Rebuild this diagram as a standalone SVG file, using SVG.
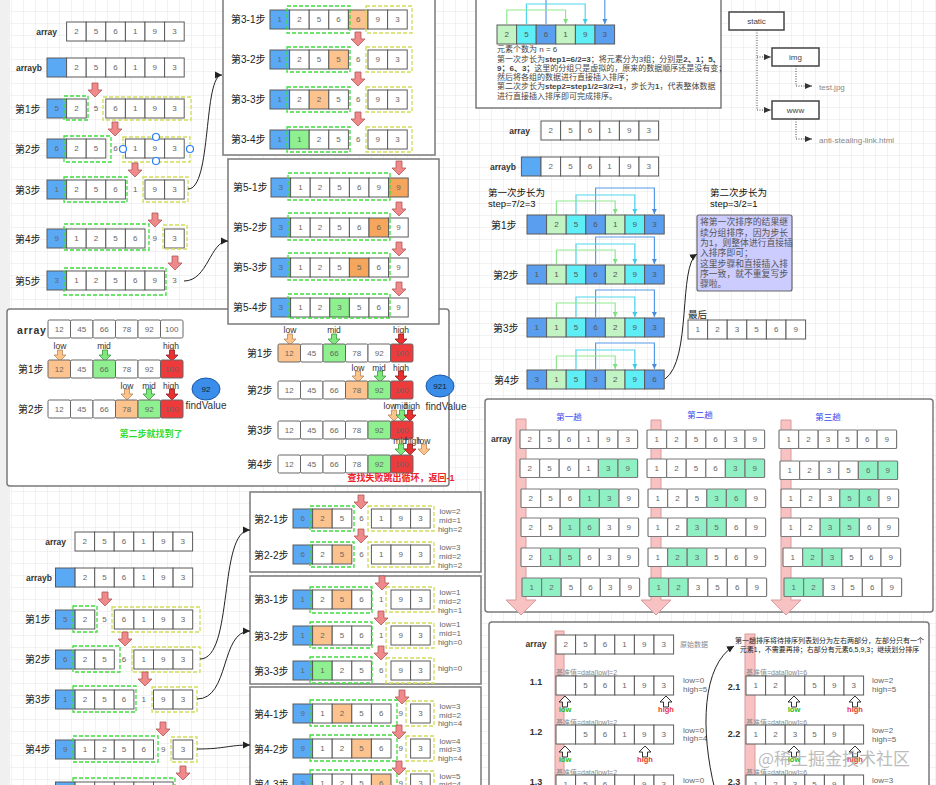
<svg xmlns="http://www.w3.org/2000/svg" xmlns:xlink="http://www.w3.org/1999/xlink" width="936" height="785" viewBox="0 0 936 785">
<style>
.t{font-family:"Liberation Sans",Arial,sans-serif;font-size:8px;fill:#666;text-anchor:middle;dominant-baseline:central}
.l{font-family:"Liberation Sans","Noto Sans CJK SC",sans-serif;font-size:10px;fill:#222;dominant-baseline:central}
.k{font-family:"Liberation Sans",Arial,sans-serif;font-size:8.5px;font-weight:bold;fill:#333;dominant-baseline:central}
.s{font-family:"Liberation Sans",Arial,sans-serif;font-size:8.5px;fill:#333;text-anchor:middle;dominant-baseline:central}
.v{font-family:"Liberation Sans",Arial,sans-serif;font-size:8px;fill:#666;text-anchor:middle;dominant-baseline:central}
.q{font-family:"Liberation Sans",Arial,sans-serif;font-size:8px;fill:#666;dominant-baseline:central}
.z{font-family:"Liberation Sans","Noto Sans CJK SC",sans-serif;font-size:7px;fill:#888;dominant-baseline:central}
.p{font-family:"Liberation Sans","Noto Sans CJK SC",sans-serif;font-size:8px;fill:#444}
.w{fill:#fff}.b{fill:#5aa9f5}.o{fill:#fcc38e}.O{fill:#f5a55c}.g{fill:#8ef08e}.m{fill:#8ef0c3}.r{fill:#ee3a3a}.lg{fill:#c2f3c2}.cy{fill:#5eeef5}.bl{fill:#5a9ef0}
.gd{fill:none;stroke:#3fdc3f;stroke-width:1.3;stroke-dasharray:4 2}
.yd{fill:none;stroke:#d2dc5a;stroke-width:1.3;stroke-dasharray:4 2}
.box{fill:#fff;stroke:#7a7a7a;stroke-width:1.5}
.ra{fill:#f08a8a;stroke:#b05555;stroke-width:.8}
.ao{fill:#fcc38a;stroke:#b8875a;stroke-width:.8}
.ag{fill:#7ee87e;stroke:#3a9a3a;stroke-width:.8}
.ar{fill:#e83030;stroke:#902020;stroke-width:.8}
.cn{fill:none;stroke:#222;stroke-width:1}
.bg{fill:none;stroke:#8fe88f;stroke-width:1.2}
.bc{fill:none;stroke:#4fd5ee;stroke-width:1.2}
.bb{fill:none;stroke:#5a9be8;stroke-width:1.2}
.dt{fill:none;stroke:#444;stroke-width:1;stroke-dasharray:1 1.5}
.pk{fill:#f9c2c2;stroke:#d89a9a;stroke-width:1}
.hw{fill:#fff;stroke:#444;stroke-width:1.5}
.ht{font-family:"Liberation Sans",Arial,sans-serif;font-size:8px;fill:#444;text-anchor:middle;dominant-baseline:central}
.gl{font-family:"Liberation Sans",Arial,sans-serif;font-size:7.5px;font-weight:bold;fill:#22bb22;text-anchor:middle;dominant-baseline:central}
.rl{font-family:"Liberation Sans",Arial,sans-serif;font-size:7.5px;font-weight:bold;fill:#e83333;text-anchor:middle;dominant-baseline:central}
</style>
<defs>
<pattern id="grid" width="12" height="12" patternUnits="userSpaceOnUse"><path d="M12 0V12H0" fill="none" stroke="#e4e4e4" stroke-width="1"/></pattern>
<rect id="c" width="19.6" height="19" stroke="#5a5a5a" stroke-width="1"/>
<rect id="d" width="19.6" height="18.5" rx="1" stroke="#7a7a7a" stroke-width="1.2"/>
<rect id="bc" width="22.5" height="18" rx="1.5" stroke="#666" stroke-width="1"/>
<path id="ra" d="M-3 0H3V7H7L0 14L-7 7H-3Z"/>
<path id="ba" d="M-2.5 0H2.5V5H6L0 11L-6 5H-2.5Z"/>
<path id="ua" d="M0 0L6 6H2.5V11H-2.5V6H-6Z" fill="#fff" stroke="#333" stroke-width="1"/>
<text id="bt" class="t" y="9"><tspan x="11.25">12</tspan><tspan x="33.75">45</tspan><tspan x="56.25">66</tspan><tspan x="78.75">78</tspan><tspan x="101.25">92</tspan><tspan x="123.75">100</tspan></text>
<marker id="ah" markerWidth="8" markerHeight="8" refX="7" refY="4" orient="auto" markerUnits="userSpaceOnUse"><path d="M0 0.5L7 4L0 7.5Z" fill="#222"/></marker>
<marker id="mk" markerWidth="8" markerHeight="8" refX="7" refY="4" orient="auto" markerUnits="userSpaceOnUse"><path d="M0 1L7 4L0 7Z" fill="#333"/></marker>
<marker id="mg" markerWidth="6" markerHeight="6" refX="5" refY="3" orient="auto" markerUnits="userSpaceOnUse"><path d="M0 0.5L5 3L0 5.5Z" fill="#7ee07e"/></marker>
<marker id="mc" markerWidth="6" markerHeight="6" refX="5" refY="3" orient="auto" markerUnits="userSpaceOnUse"><path d="M0 0.5L5 3L0 5.5Z" fill="#3dcbe6"/></marker>
<marker id="mb" markerWidth="6" markerHeight="6" refX="5" refY="3" orient="auto" markerUnits="userSpaceOnUse"><path d="M0 0.5L5 3L0 5.5Z" fill="#4a8be0"/></marker>
</defs>
<rect width="936" height="785" fill="#fff"/>
<rect width="936" height="785" fill="url(#grid)"/>
<rect width="10" height="785" fill="#f0f0f0"/>

<!-- Section A: insertion sort -->
<g id="insA">
<text class="k" x="57" y="31.5" text-anchor="end">array</text>
<g class="w" transform="translate(66.6,22)"><use href="#c"/><use href="#c" x="19.6"/><use href="#c" x="39.2"/><use href="#c" x="58.8"/><use href="#c" x="78.4"/><use href="#c" x="98"/><text class="t" y="9.5" x="9.8 29.4 49 68.6 88.2 107.8">256193</text></g>
<text class="k" x="42" y="67.5" text-anchor="end">arrayb</text>
<g class="w" transform="translate(47,58)"><use href="#c" class="b"/><use href="#c" x="19.6"/><use href="#c" x="39.2"/><use href="#c" x="58.8"/><use href="#c" x="78.4"/><use href="#c" x="98"/><use href="#c" x="117.6"/><text class="t" y="9.5" x="29.4 49 68.6 88.2 107.8 127.4">256193</text></g>
<text class="l" x="15" y="109">第1步</text>
<g class="w" transform="translate(47,99)"><use href="#c" class="b"/><use href="#c" x="19.6"/><use href="#c" x="58.8"/><use href="#c" x="78.4"/><use href="#c" x="98"/><use href="#c" x="117.6"/><text class="t" y="9.5" x="9.8 29.4 49 68.6 88.2 107.8 127.4">5256193</text></g>
<rect class="gd" x="64" y="96" width="24" height="24"/><rect class="yd" x="103" y="97" width="88" height="23"/>
<text class="l" x="15" y="149">第2步</text>
<g class="w" transform="translate(47,139)"><use href="#c" class="b"/><use href="#c" x="19.6"/><use href="#c" x="39.2"/><use href="#c" x="78.4"/><use href="#c" x="98"/><use href="#c" x="117.6"/><text class="t" y="9.5" x="9.8 29.4 49 68.6 88.2 107.8 127.4">6256193</text></g>
<rect class="gd" x="64" y="136" width="47" height="26"/><rect class="yd" x="123" y="137" width="67" height="25"/>
<g fill="#fff" stroke="#2a7fff" stroke-width="1.2"><circle cx="156" cy="137" r="3.5"/><circle cx="123" cy="149" r="3.5"/><circle cx="156" cy="161" r="3.5"/><circle cx="190" cy="149" r="3.5"/></g>
<text class="l" x="15" y="190">第3步</text>
<g class="w" transform="translate(47,180)"><use href="#c" class="b"/><use href="#c" x="19.6"/><use href="#c" x="39.2"/><use href="#c" x="58.8"/><use href="#c" x="98"/><use href="#c" x="117.6"/><text class="t" y="9.5" x="9.8 29.4 49 68.6 88.2 107.8 127.4">1256193</text></g>
<rect class="gd" x="64" y="177" width="63" height="25"/><rect class="yd" x="143" y="177" width="45" height="25"/>
<text class="l" x="15" y="239">第4步</text>
<g class="w" transform="translate(47,229)"><use href="#c" class="b"/><use href="#c" x="19.6"/><use href="#c" x="39.2"/><use href="#c" x="58.8"/><use href="#c" x="78.4"/><use href="#c" x="117.6"/><text class="t" y="9.5" x="9.8 29.4 49 68.6 88.2 107.8 127.4">9125693</text></g>
<rect class="gd" x="64" y="224" width="85" height="26"/><rect class="yd" x="163" y="225" width="24" height="24"/>
<text class="l" x="15" y="281">第5步</text>
<g class="w" transform="translate(47,271)"><use href="#c" class="b"/><use href="#c" x="19.6"/><use href="#c" x="39.2"/><use href="#c" x="58.8"/><use href="#c" x="78.4"/><use href="#c" x="98"/><text class="t" y="9.5" x="9.8 29.4 49 68.6 88.2 107.8 127.4">3125693</text></g>
<rect class="gd" x="64" y="268" width="102" height="27"/>
<use href="#ra" class="ra" x="95" y="83"/><use href="#ra" class="ra" x="115" y="122"/><use href="#ra" class="ra" x="135" y="163"/><use href="#ra" class="ra" x="155" y="213"/><use href="#ra" class="ra" x="175" y="256"/>
</g>

<!-- Section D: binary search box -->
<g id="binary">
<rect class="box" x="7" y="309" width="442" height="177" rx="3"/>
<text class="k" x="17" y="329.5" style="font-size:10.5px;letter-spacing:.8px">array</text>
<g class="w" transform="translate(48,320)"><use href="#bc"/><use href="#bc" x="22.5"/><use href="#bc" x="45"/><use href="#bc" x="67.5"/><use href="#bc" x="90"/><use href="#bc" x="112.5"/><use href="#bt"/></g>
<text class="s" x="60" y="346">low</text><text class="s" x="104" y="346">mid</text><text class="s" x="171" y="346">high</text>
<use href="#ba" class="ao" x="60" y="350"/><use href="#ba" class="ag" x="105" y="350"/><use href="#ba" class="ar" x="172" y="350"/>
<text class="l" x="18" y="369">第1步</text>
<g class="w" transform="translate(48,360)"><use href="#bc" class="o"/><use href="#bc" x="22.5"/><use href="#bc" x="45" class="g"/><use href="#bc" x="67.5"/><use href="#bc" x="90"/><use href="#bc" x="112.5" class="r"/><use href="#bt"/></g>
<text class="s" x="127" y="386">low</text><text class="s" x="149" y="386">mid</text><text class="s" x="171" y="386">high</text>
<use href="#ba" class="ao" x="127" y="389"/><use href="#ba" class="ag" x="149" y="389"/><use href="#ba" class="ar" x="172" y="389"/>
<text class="l" x="18" y="409">第2步</text>
<g class="w" transform="translate(48,400)"><use href="#bc"/><use href="#bc" x="22.5"/><use href="#bc" x="45"/><use href="#bc" x="67.5" class="o"/><use href="#bc" x="90" class="g"/><use href="#bc" x="112.5" class="r"/><use href="#bt"/></g>
<ellipse cx="206" cy="389" rx="14" ry="11" fill="#3a8de8" stroke="#1a5aaa"/>
<text class="t" x="206" y="389" style="fill:#123">92</text>
<text class="s" x="206" y="405" style="font-size:10px">findValue</text>
<text class="l" x="151" y="434" text-anchor="middle" style="font-size:9px;font-weight:bold;fill:#33dd33">第二步就找到了</text>

<text class="s" x="290" y="330">low</text><text class="s" x="334" y="330">mid</text><text class="s" x="401" y="330">high</text>
<use href="#ba" class="ao" x="290" y="334"/><use href="#ba" class="ag" x="334" y="334"/><use href="#ba" class="ar" x="401" y="334"/>
<text class="l" x="247" y="353">第1步</text>
<g class="w" transform="translate(278,344)"><use href="#bc" class="o"/><use href="#bc" x="22.5"/><use href="#bc" x="45" class="g"/><use href="#bc" x="67.5"/><use href="#bc" x="90"/><use href="#bc" x="112.5" class="r"/><use href="#bt"/></g>
<text class="s" x="358" y="368">low</text><text class="s" x="379" y="368">mid</text><text class="s" x="401" y="368">high</text>
<use href="#ba" class="ao" x="358" y="371"/><use href="#ba" class="ag" x="380" y="371"/><use href="#ba" class="ar" x="401" y="371"/>
<text class="l" x="247" y="390">第2步</text>
<g class="w" transform="translate(278,381)"><use href="#bc"/><use href="#bc" x="22.5"/><use href="#bc" x="45"/><use href="#bc" x="67.5" class="o"/><use href="#bc" x="90" class="g"/><use href="#bc" x="112.5" class="r"/><use href="#bt"/></g>
<ellipse cx="440" cy="386" rx="14" ry="11" fill="#3a8de8" stroke="#1a5aaa"/>
<text class="t" x="440" y="386" style="fill:#123">921</text>
<text class="s" x="446" y="406" style="font-size:10px">findValue</text>
<text class="s" x="390" y="406">low</text><text class="s" x="401" y="406">mid</text><text class="s" x="412" y="406">high</text>
<use href="#ba" class="ao" x="394" y="410"/><use href="#ba" class="ag" x="402" y="410"/><use href="#ba" class="ar" x="410" y="410"/>
<text class="l" x="247" y="430">第3步</text>
<g class="w" transform="translate(278,421)"><use href="#bc"/><use href="#bc" x="22.5"/><use href="#bc" x="45"/><use href="#bc" x="67.5"/><use href="#bc" x="90" class="g"/><use href="#bc" x="112.5" class="r"/><use href="#bt"/></g>
<text class="s" x="400" y="441">mid</text><text class="s" x="413" y="441">high</text><text class="s" x="424" y="441">low</text>
<use href="#ba" class="ag" x="401" y="444"/><use href="#ba" class="ar" x="410" y="444"/><use href="#ba" class="ao" x="424" y="444"/>
<text class="l" x="247" y="464">第4步</text>
<g class="w" transform="translate(278,455)"><use href="#bc"/><use href="#bc" x="22.5"/><use href="#bc" x="45"/><use href="#bc" x="67.5"/><use href="#bc" x="90" class="g"/><use href="#bc" x="112.5" class="r"/><use href="#bt"/></g>
<text class="l" x="401" y="478" text-anchor="middle" style="font-size:9px;font-weight:bold;fill:#e22">查找失败跳出循环，返回-1</text>
</g>

<!-- Section B -->
<g id="box3">
<rect class="box" x="223" y="-5" width="212" height="160"/>
<text class="l" x="231" y="19.5">第3-1步</text>
<g class="w" transform="translate(270,10)"><use href="#c" class="b"/><use href="#c" x="19.6"/><use href="#c" x="39.2"/><use href="#c" x="58.8"/><use href="#c" x="78.4" class="o"/><use href="#c" x="98"/><use href="#c" x="117.6"/><text class="t" y="9.5" x="9.8 29.4 49 68.6 88.2 107.8 127.4">1256693</text></g>
<rect class="gd" x="287" y="6" width="63" height="27"/><rect class="yd" x="366" y="6" width="46" height="27"/>
<text class="l" x="231" y="59.5">第3-2步</text>
<g class="w" transform="translate(270,50)"><use href="#c" class="b"/><use href="#c" x="19.6"/><use href="#c" x="39.2"/><use href="#c" x="58.8" class="o"/><use href="#c" x="98"/><use href="#c" x="117.6"/><text class="t" y="9.5" x="9.8 29.4 49 68.6 88.2 107.8 127.4">1255693</text></g>
<rect class="gd" x="287" y="47" width="63" height="25"/><rect class="yd" x="366" y="47" width="46" height="25"/>
<text class="l" x="231" y="99.5">第3-3步</text>
<g class="w" transform="translate(270,90)"><use href="#c" class="b"/><use href="#c" x="19.6"/><use href="#c" x="39.2" class="o"/><use href="#c" x="58.8"/><use href="#c" x="98"/><use href="#c" x="117.6"/><text class="t" y="9.5" x="9.8 29.4 49 68.6 88.2 107.8 127.4">1225693</text></g>
<rect class="gd" x="287" y="87" width="63" height="25"/><rect class="yd" x="366" y="87" width="46" height="25"/>
<text class="l" x="231" y="139.5">第3-4步</text>
<g class="w" transform="translate(270,130)"><use href="#c" class="b"/><use href="#c" x="19.6" class="g"/><use href="#c" x="39.2"/><use href="#c" x="58.8"/><use href="#c" x="98"/><use href="#c" x="117.6"/><text class="t" y="9.5" x="9.8 29.4 49 68.6 88.2 107.8 127.4">1125693</text></g>
<rect class="gd" x="287" y="127" width="63" height="25"/><rect class="yd" x="366" y="127" width="46" height="25"/>
<use href="#ra" class="ra" x="358" y="32"/><use href="#ra" class="ra" x="358" y="72"/><use href="#ra" class="ra" x="358" y="112"/>
</g>

<!-- Section C -->
<g id="box5">
<rect class="box" x="228" y="159" width="211" height="165"/>
<text class="l" x="233" y="187.5">第5-1步</text>
<g class="w" transform="translate(271,178)"><use href="#c" class="b"/><use href="#c" x="19.6"/><use href="#c" x="39.2"/><use href="#c" x="58.8"/><use href="#c" x="78.4"/><use href="#c" x="98"/><use href="#c" x="117.6" class="O"/><text class="t" y="9.5" x="9.8 29.4 49 68.6 88.2 107.8 127.4">3125699</text></g>
<rect class="gd" x="288" y="173" width="102" height="27"/>
<text class="l" x="233" y="227.5">第5-2步</text>
<g class="w" transform="translate(271,218)"><use href="#c" class="b"/><use href="#c" x="19.6"/><use href="#c" x="39.2"/><use href="#c" x="58.8"/><use href="#c" x="78.4"/><use href="#c" x="98" class="O"/><use href="#c" x="117.6"/><text class="t" y="9.5" x="9.8 29.4 49 68.6 88.2 107.8 127.4">3125669</text></g>
<rect class="gd" x="288" y="213" width="102" height="27"/>
<text class="l" x="233" y="267.5">第5-3步</text>
<g class="w" transform="translate(271,258)"><use href="#c" class="b"/><use href="#c" x="19.6"/><use href="#c" x="39.2"/><use href="#c" x="58.8"/><use href="#c" x="78.4" class="O"/><use href="#c" x="98"/><use href="#c" x="117.6"/><text class="t" y="9.5" x="9.8 29.4 49 68.6 88.2 107.8 127.4">3125569</text></g>
<rect class="gd" x="288" y="253" width="102" height="27"/>
<text class="l" x="233" y="307.5">第5-4步</text>
<g class="w" transform="translate(271,298)"><use href="#c" class="b"/><use href="#c" x="19.6"/><use href="#c" x="39.2"/><use href="#c" x="58.8" class="g"/><use href="#c" x="78.4"/><use href="#c" x="98"/><use href="#c" x="117.6"/><text class="t" y="9.5" x="9.8 29.4 49 68.6 88.2 107.8 127.4">3123569</text></g>
<rect class="gd" x="288" y="294" width="102" height="24"/>
<use href="#ra" class="ra" x="399" y="161"/><use href="#ra" class="ra" x="399" y="202"/><use href="#ra" class="ra" x="399" y="242"/><use href="#ra" class="ra" x="399" y="282"/>
</g>

<!-- Section E -->
<g id="insB">
<text class="k" x="66" y="541.5" text-anchor="end">array</text>
<g class="w" transform="translate(75,532)"><use href="#c"/><use href="#c" x="19.6"/><use href="#c" x="39.2"/><use href="#c" x="58.8"/><use href="#c" x="78.4"/><use href="#c" x="98"/><text class="t" y="9.5" x="9.8 29.4 49 68.6 88.2 107.8">256193</text></g>
<text class="k" x="52" y="577.5" text-anchor="end">arrayb</text>
<g class="w" transform="translate(55.5,568)"><use href="#c" class="b"/><use href="#c" x="19.6"/><use href="#c" x="39.2"/><use href="#c" x="58.8"/><use href="#c" x="78.4"/><use href="#c" x="98"/><use href="#c" x="117.6"/><text class="t" y="9.5" x="29.4 49 68.6 88.2 107.8 127.4">256193</text></g>
<text class="l" x="25" y="619.5">第1步</text>
<g class="w" transform="translate(55.5,610)"><use href="#c" class="b"/><use href="#c" x="19.6"/><use href="#c" x="58.8"/><use href="#c" x="78.4"/><use href="#c" x="98"/><use href="#c" x="117.6"/><text class="t" y="9.5" x="9.8 29.4 49 68.6 88.2 107.8 127.4">5256193</text></g>
<rect class="gd" x="73" y="606" width="24" height="26"/><rect class="yd" x="112" y="607" width="88" height="25"/>
<text class="l" x="25" y="659.5">第2步</text>
<g class="w" transform="translate(55.5,650)"><use href="#c" class="b"/><use href="#c" x="19.6"/><use href="#c" x="39.2"/><use href="#c" x="78.4"/><use href="#c" x="98"/><use href="#c" x="117.6"/><text class="t" y="9.5" x="9.8 29.4 49 68.6 88.2 107.8 127.4">6256193</text></g>
<rect class="gd" x="73" y="646" width="47" height="26"/><rect class="yd" x="132" y="647" width="68" height="25"/>
<text class="l" x="25" y="699.5">第3步</text>
<g class="w" transform="translate(55.5,690)"><use href="#c" class="b"/><use href="#c" x="19.6"/><use href="#c" x="39.2"/><use href="#c" x="58.8"/><use href="#c" x="98"/><use href="#c" x="117.6"/><text class="t" y="9.5" x="9.8 29.4 49 68.6 88.2 107.8 127.4">1256193</text></g>
<rect class="gd" x="73" y="686" width="63" height="26"/><rect class="yd" x="152" y="687" width="45" height="25"/>
<text class="l" x="25" y="749.5">第4步</text>
<g class="w" transform="translate(55.5,740)"><use href="#c" class="b"/><use href="#c" x="19.6"/><use href="#c" x="39.2"/><use href="#c" x="58.8"/><use href="#c" x="78.4"/><use href="#c" x="117.6"/><text class="t" y="9.5" x="9.8 29.4 49 68.6 88.2 107.8 127.4">9125693</text></g>
<rect class="gd" x="73" y="736" width="85" height="26"/><rect class="yd" x="171" y="737" width="26" height="25"/>
<g class="w" transform="translate(55.5,782)"><use href="#c" class="b"/><use href="#c" x="19.6"/><use href="#c" x="39.2"/><use href="#c" x="58.8"/><use href="#c" x="78.4"/><use href="#c" x="98"/></g>
<rect class="gd" x="73" y="778" width="102" height="26"/>
<use href="#ra" class="ra" x="105" y="592"/><use href="#ra" class="ra" x="125" y="632"/><use href="#ra" class="ra" x="145" y="672"/><use href="#ra" class="ra" x="163" y="722"/><use href="#ra" class="ra" x="183" y="766"/>
</g>

<!-- Section F -->
<g id="box2x">
<rect class="box" x="250" y="492" width="231" height="80"/>
<text class="l" x="254" y="519">第2-1步</text>
<g class="w" transform="translate(293,509)"><use href="#c" class="b"/><use href="#c" x="19.6" class="o"/><use href="#c" x="39.2"/><use href="#c" x="78.4"/><use href="#c" x="98"/><use href="#c" x="117.6"/><text class="t" y="9.5" x="9.8 29.4 49 68.6 88.2 107.8 127.4">6256193</text></g>
<rect class="gd" x="310" y="506" width="44" height="25"/><rect class="yd" x="368" y="506" width="66" height="25"/>
<text class="v" x="450" y="511">low=2</text><text class="v" x="450" y="520">mid=1</text><text class="v" x="450" y="529">high=2</text>
<text class="l" x="254" y="555">第2-2步</text>
<g class="w" transform="translate(293,545)"><use href="#c" class="b"/><use href="#c" x="19.6"/><use href="#c" x="39.2" class="o"/><use href="#c" x="78.4"/><use href="#c" x="98"/><use href="#c" x="117.6"/><text class="t" y="9.5" x="9.8 29.4 49 68.6 88.2 107.8 127.4">6256193</text></g>
<rect class="gd" x="310" y="542" width="44" height="25"/><rect class="yd" x="368" y="542" width="66" height="25"/>
<text class="v" x="450" y="547">low=3</text><text class="v" x="450" y="556">mid=2</text><text class="v" x="450" y="565">high=2</text>
<use href="#ra" class="ra" x="361" y="495"/><use href="#ra" class="ra" x="361" y="529"/>
</g>
<g id="box3x">
<rect class="box" x="250" y="576" width="231" height="108"/>
<text class="l" x="254" y="599">第3-1步</text>
<g class="w" transform="translate(293,590)"><use href="#c" class="b"/><use href="#c" x="19.6"/><use href="#c" x="39.2" class="o"/><use href="#c" x="58.8"/><use href="#c" x="98"/><use href="#c" x="117.6"/><text class="t" y="9.5" x="9.8 29.4 49 68.6 88.2 107.8 127.4">1256193</text></g>
<rect class="gd" x="310" y="587" width="62" height="26"/><rect class="yd" x="386" y="587" width="48" height="25"/>
<text class="v" x="450" y="592">low=1</text><text class="v" x="450" y="601">mid=2</text><text class="v" x="450" y="610">high=1</text>
<text class="l" x="254" y="636">第3-2步</text>
<g class="w" transform="translate(293,626)"><use href="#c" class="b"/><use href="#c" x="19.6" class="o"/><use href="#c" x="39.2"/><use href="#c" x="58.8"/><use href="#c" x="98"/><use href="#c" x="117.6"/><text class="t" y="9.5" x="9.8 29.4 49 68.6 88.2 107.8 127.4">1256193</text></g>
<rect class="gd" x="310" y="622" width="62" height="26"/><rect class="yd" x="386" y="623" width="48" height="25"/>
<text class="v" x="450" y="624">low=1</text><text class="v" x="450" y="633">mid=1</text><text class="v" x="450" y="642">high=0</text>
<text class="l" x="254" y="671">第3-3步</text>
<g class="w" transform="translate(293,661)"><use href="#c" class="b"/><use href="#c" x="19.6" class="g"/><use href="#c" x="39.2"/><use href="#c" x="58.8"/><use href="#c" x="98"/><use href="#c" x="117.6"/><text class="t" y="9.5" x="9.8 29.4 49 68.6 88.2 107.8 127.4">1125693</text></g>
<rect class="gd" x="310" y="657" width="62" height="26"/><rect class="yd" x="386" y="658" width="48" height="25"/>
<text class="v" x="450" y="668">high=0</text>
<use href="#ra" class="ra" x="382" y="576"/><use href="#ra" class="ra" x="381" y="611"/><use href="#ra" class="ra" x="381" y="646"/>
</g>
<g id="box4x">
<rect class="box" x="250" y="687" width="231" height="110"/>
<text class="l" x="254" y="714">第4-1步</text>
<g class="w" transform="translate(293,704)"><use href="#c" class="b"/><use href="#c" x="19.6"/><use href="#c" x="39.2" class="o"/><use href="#c" x="58.8"/><use href="#c" x="78.4"/><use href="#c" x="117.6"/><text class="t" y="9.5" x="9.8 29.4 49 68.6 88.2 107.8 127.4">9125693</text></g>
<rect class="gd" x="310" y="700" width="87" height="26"/><rect class="yd" x="406" y="701" width="28" height="25"/>
<text class="v" x="450" y="706">low=3</text><text class="v" x="450" y="715">mid=2</text><text class="v" x="450" y="723">high=4</text>
<text class="l" x="254" y="749">第4-2步</text>
<g class="w" transform="translate(293,739)"><use href="#c" class="b"/><use href="#c" x="19.6"/><use href="#c" x="39.2"/><use href="#c" x="58.8" class="o"/><use href="#c" x="78.4"/><use href="#c" x="117.6"/><text class="t" y="9.5" x="9.8 29.4 49 68.6 88.2 107.8 127.4">9125693</text></g>
<rect class="gd" x="310" y="735" width="87" height="26"/><rect class="yd" x="406" y="736" width="28" height="25"/>
<text class="v" x="450" y="741">low=4</text><text class="v" x="450" y="749">mid=3</text><text class="v" x="450" y="758">high=4</text>
<text class="l" x="254" y="784">第4-3步</text>
<g class="w" transform="translate(293,774)"><use href="#c" class="b"/><use href="#c" x="19.6"/><use href="#c" x="39.2"/><use href="#c" x="58.8"/><use href="#c" x="78.4" class="o"/><use href="#c" x="117.6"/><text class="t" y="9.5" x="9.8 29.4 49 68.6 88.2 107.8 127.4">9125693</text></g>
<rect class="gd" x="310" y="770" width="87" height="26"/><rect class="yd" x="406" y="771" width="28" height="25"/>
<text class="v" x="450" y="776">low=5</text><text class="v" x="450" y="784">mid=4</text>
<use href="#ra" class="ra" x="402" y="690"/><use href="#ra" class="ra" x="399" y="725"/><use href="#ra" class="ra" x="399" y="761"/>
</g>

<!-- Section G: shell explanation -->
<g id="shellNote">
<rect class="box" x="476" y="-5" width="245" height="113"/>
<g class="w" transform="translate(497,25)"><use href="#c" class="lg"/><use href="#c" x="19.6" class="cy"/><use href="#c" x="39.2" class="bl"/><use href="#c" x="58.8" class="lg"/><use href="#c" x="78.4" class="cy"/><use href="#c" x="98" class="bl"/><text class="t" y="9.5" x="9.8 29.4 49 68.6 88.2 107.8" style="fill:#555">256193</text></g>
<path class="bb" marker-end="url(#mb)" d="M546 -2V24M604.8 -2V24"/>
<path class="bc" marker-end="url(#mc)" d="M556 4H526.4V24M556 4H585.2V24"/>
<path class="bg" marker-end="url(#mg)" d="M536.2 10H506.8V24M536.2 10H565.6V24"/>
<text class="p" x="497" y="52">元素个数为 n = 6</text>
<text class="p" x="497" y="61.5">第一次步长为<tspan font-weight="bold">step1=6/2=3</tspan>；将元素分为3组；分别是<tspan font-weight="bold">2、1；5、</tspan></text>
<text class="p" x="497" y="70.5"><tspan font-weight="bold">9；6、3；</tspan>这里的分组只是虚拟的，原来的数据顺序还是没有变；</text>
<text class="p" x="497" y="79.5">然后将各组的数据进行直接插入排序；</text>
<text class="p" x="497" y="89">第二次步长为<tspan font-weight="bold">step2=step1/2=3/2=1</tspan>，步长为<tspan font-weight="bold">1</tspan>，代表整体数据</text>
<text class="p" x="497" y="99">进行直接插入排序即可完成排序。</text>
</g>

<!-- Section H: static tree -->
<g id="tree">
<rect class="hw" x="729" y="12" width="55" height="18"/><text class="ht" x="756.5" y="21">static</text>
<rect class="hw" x="772" y="48" width="47" height="18"/><text class="ht" x="795.5" y="57">img</text>
<rect class="hw" x="772" y="101" width="47" height="18"/><text class="ht" x="795.5" y="110">www</text>
<path class="dt" marker-end="url(#mk)" d="M757 30V110H771"/>
<path class="dt" marker-end="url(#mk)" d="M757 57H771"/>
<path class="dt" marker-end="url(#mk)" d="M796 66V86H812"/>
<path class="dt" marker-end="url(#mk)" d="M796 119V139H812"/>
<text class="q" x="819" y="87" style="fill:#888">test.jpg</text>
<text class="q" x="819" y="140" style="fill:#888">anti-stealing-link.html</text>
</g>

<!-- Section I: shell detail -->
<g id="shell">
<text class="k" x="530" y="130.5" text-anchor="end">array</text>
<g class="w" transform="translate(541,121)"><use href="#c"/><use href="#c" x="19.6"/><use href="#c" x="39.2"/><use href="#c" x="58.8"/><use href="#c" x="78.4"/><use href="#c" x="98"/><text class="t" y="9.5" x="9.8 29.4 49 68.6 88.2 107.8">256193</text></g>
<text class="k" x="516" y="166.5" text-anchor="end">arrayb</text>
<g class="w" transform="translate(521.4,157)"><use href="#c" class="b"/><use href="#c" x="19.6"/><use href="#c" x="39.2"/><use href="#c" x="58.8"/><use href="#c" x="78.4"/><use href="#c" x="98"/><use href="#c" x="117.6"/><text class="t" y="9.5" x="29.4 49 68.6 88.2 107.8 127.4">256193</text></g>
<text class="l" x="488" y="192" style="font-size:9.5px;fill:#111">第一次步长为</text>
<text class="l" x="488" y="203" style="font-size:9.5px;fill:#111">step=7/2=3</text>
<text class="l" x="710" y="192" style="font-size:9.5px;fill:#111">第二次步长为</text>
<text class="l" x="710" y="203" style="font-size:9.5px;fill:#111">step=3/2=1</text>
<text class="l" x="491" y="225">第1步</text>
<g class="w" transform="translate(527,215)"><use href="#c" class="bl"/><use href="#c" x="19.6" class="lg"/><use href="#c" x="39.2" class="cy"/><use href="#c" x="58.8" class="bl"/><use href="#c" x="78.4" class="lg"/><use href="#c" x="98" class="cy"/><use href="#c" x="117.6" class="bl"/><text class="t" y="9.5" x="29.4 49 68.6 88.2 107.8 127.4" style="fill:#555">256193</text></g>
<path class="bb" marker-end="url(#mb)" d="M625 188H595.6V214M625 188H654.4V214"/>
<path class="bc" marker-end="url(#mc)" d="M605.4 195H576V214M605.4 195H634.8V214"/>
<path class="bg" marker-end="url(#mg)" d="M585.8 201H556.4V214M585.8 201H615.2V214"/>
<text class="l" x="493" y="275">第2步</text>
<g class="w" transform="translate(527,265)"><use href="#c" class="bl"/><use href="#c" x="19.6" class="lg"/><use href="#c" x="39.2" class="cy"/><use href="#c" x="58.8" class="bl"/><use href="#c" x="78.4" class="lg"/><use href="#c" x="98" class="cy"/><use href="#c" x="117.6" class="bl"/><text class="t" y="9.5" x="9.8 29.4 49 68.6 88.2 107.8 127.4" style="fill:#555">1156293</text></g>
<path class="bb" marker-end="url(#mb)" d="M625 237H595.6V264M625 237H654.4V264"/>
<path class="bc" marker-end="url(#mc)" d="M605.4 244H576V264M605.4 244H634.8V264"/>
<path class="bg" marker-end="url(#mg)" d="M585.8 250H556.4V264M585.8 250H615.2V264"/>
<text class="l" x="493" y="328">第3步</text>
<g class="w" transform="translate(527,318)"><use href="#c" class="bl"/><use href="#c" x="19.6" class="lg"/><use href="#c" x="39.2" class="cy"/><use href="#c" x="58.8" class="bl"/><use href="#c" x="78.4" class="lg"/><use href="#c" x="98" class="cy"/><use href="#c" x="117.6" class="bl"/><text class="t" y="9.5" x="9.8 29.4 49 68.6 88.2 107.8 127.4" style="fill:#555">1156293</text></g>
<path class="bb" marker-end="url(#mb)" d="M625 290H595.6V317M625 290H654.4V317"/>
<path class="bc" marker-end="url(#mc)" d="M605.4 297H576V317M605.4 297H634.8V317"/>
<path class="bg" marker-end="url(#mg)" d="M585.8 303H556.4V317M585.8 303H615.2V317"/>
<text class="l" x="494" y="380">第4步</text>
<g class="w" transform="translate(527,370)"><use href="#c" class="bl"/><use href="#c" x="19.6" class="lg"/><use href="#c" x="39.2" class="cy"/><use href="#c" x="58.8" class="bl"/><use href="#c" x="78.4" class="lg"/><use href="#c" x="98" class="cy"/><use href="#c" x="117.6" class="bl"/><text class="t" y="9.5" x="9.8 29.4 49 68.6 88.2 107.8 127.4" style="fill:#555">3153296</text></g>
<path class="bb" marker-end="url(#mb)" d="M625 343H595.6V369M625 343H654.4V369"/>
<path class="bc" marker-end="url(#mc)" d="M605.4 350H576V369M605.4 350H634.8V369"/>
<path class="bg" marker-end="url(#mg)" d="M585.8 356H556.4V369M585.8 356H615.2V369"/>
</g>
<g id="note">
<rect x="697" y="215" width="95" height="76" rx="2" fill="#ccccff" stroke="#666" stroke-width="1.2"/>
<g class="l" style="font-size:8.8px;fill:#555"><text x="700" y="222">将第一次排序的结果继</text><text x="700" y="232.5">续分组排序，因为步长</text><text x="700" y="243">为1，则整体进行直接插</text><text x="700" y="253">入排序即可；</text><text x="700" y="263.5">这里步骤和直接插入排</text><text x="700" y="274">序一致，就不重复写步</text><text x="700" y="284">骤啦。</text></g>
</g>
<g id="final">
<text class="l" x="688" y="314" style="font-size:9.5px">最后</text>
<g class="w" transform="translate(688,320)"><use href="#c"/><use href="#c" x="19.6"/><use href="#c" x="39.2"/><use href="#c" x="58.8"/><use href="#c" x="78.4"/><use href="#c" x="98"/><text class="t" y="9.5" x="9.8 29.4 49 68.6 88.2 107.8">123569</text></g>
</g>

<!-- Section J: bubble sort -->
<g id="bubble">
<rect class="box" x="485" y="399" width="448" height="213" rx="3"/>
<path class="pk" d="M516 419H526V600H536L521 615L506 600H516Z"/>
<path class="pk" d="M651 420H661V600H671L656 615L641 600H651Z"/>
<path class="pk" d="M781 420H791V600H801L786 615L771 600H781Z"/>
<g class="l" text-anchor="middle" style="font-size:8.5px;fill:#3344ee"><text x="569" y="417">第一趟</text><text x="700" y="415">第二趟</text><text x="828" y="417">第三趟</text></g>
<text class="k" x="491" y="439">array</text>
<g class="w" transform="translate(520,430)"><use href="#d"/><use href="#d" x="19.6"/><use href="#d" x="39.2"/><use href="#d" x="58.8"/><use href="#d" x="78.4"/><use href="#d" x="98"/><text class="t" y="9.25" x="9.8 29.4 49 68.6 88.2 107.8">256193</text></g>
<g class="w" transform="translate(520,459)"><use href="#d"/><use href="#d" x="19.6"/><use href="#d" x="39.2"/><use href="#d" x="58.8"/><use href="#d" x="78.4" class="m"/><use href="#d" x="98" class="m"/><text class="t" y="9.25" x="9.8 29.4 49 68.6 88.2 107.8">256139</text></g>
<g class="w" transform="translate(521,489)"><use href="#d"/><use href="#d" x="19.6"/><use href="#d" x="39.2"/><use href="#d" x="58.8" class="m"/><use href="#d" x="78.4" class="m"/><use href="#d" x="98"/><text class="t" y="9.25" x="9.8 29.4 49 68.6 88.2 107.8">256139</text></g>
<g class="w" transform="translate(521,518)"><use href="#d"/><use href="#d" x="19.6"/><use href="#d" x="39.2" class="m"/><use href="#d" x="58.8" class="m"/><use href="#d" x="78.4"/><use href="#d" x="98"/><text class="t" y="9.25" x="9.8 29.4 49 68.6 88.2 107.8">251639</text></g>
<g class="w" transform="translate(521,548)"><use href="#d"/><use href="#d" x="19.6" class="m"/><use href="#d" x="39.2" class="m"/><use href="#d" x="58.8"/><use href="#d" x="78.4"/><use href="#d" x="98"/><text class="t" y="9.25" x="9.8 29.4 49 68.6 88.2 107.8">215639</text></g>
<g class="w" transform="translate(522,578)"><use href="#d" class="m"/><use href="#d" x="19.6" class="m"/><use href="#d" x="39.2"/><use href="#d" x="58.8"/><use href="#d" x="78.4"/><use href="#d" x="98"/><text class="t" y="9.25" x="9.8 29.4 49 68.6 88.2 107.8">125639</text></g>

<g class="w" transform="translate(647,430)"><use href="#d"/><use href="#d" x="19.6"/><use href="#d" x="39.2"/><use href="#d" x="58.8"/><use href="#d" x="78.4"/><use href="#d" x="98"/><text class="t" y="9.25" x="9.8 29.4 49 68.6 88.2 107.8">125639</text></g>
<g class="w" transform="translate(647,459)"><use href="#d"/><use href="#d" x="19.6"/><use href="#d" x="39.2"/><use href="#d" x="58.8"/><use href="#d" x="78.4" class="m"/><use href="#d" x="98" class="m"/><text class="t" y="9.25" x="9.8 29.4 49 68.6 88.2 107.8">125639</text></g>
<g class="w" transform="translate(648,489)"><use href="#d"/><use href="#d" x="19.6"/><use href="#d" x="39.2"/><use href="#d" x="58.8" class="m"/><use href="#d" x="78.4" class="m"/><use href="#d" x="98"/><text class="t" y="9.25" x="9.8 29.4 49 68.6 88.2 107.8">125369</text></g>
<g class="w" transform="translate(648,518)"><use href="#d"/><use href="#d" x="19.6"/><use href="#d" x="39.2" class="m"/><use href="#d" x="58.8" class="m"/><use href="#d" x="78.4"/><use href="#d" x="98"/><text class="t" y="9.25" x="9.8 29.4 49 68.6 88.2 107.8">123569</text></g>
<g class="w" transform="translate(648,548)"><use href="#d"/><use href="#d" x="19.6" class="m"/><use href="#d" x="39.2" class="m"/><use href="#d" x="58.8"/><use href="#d" x="78.4"/><use href="#d" x="98"/><text class="t" y="9.25" x="9.8 29.4 49 68.6 88.2 107.8">123569</text></g>
<g class="w" transform="translate(649,578)"><use href="#d" class="m"/><use href="#d" x="19.6" class="m"/><use href="#d" x="39.2"/><use href="#d" x="58.8"/><use href="#d" x="78.4"/><use href="#d" x="98"/><text class="t" y="9.25" x="9.8 29.4 49 68.6 88.2 107.8">123569</text></g>

<g class="w" transform="translate(779,430)"><use href="#d"/><use href="#d" x="19.6"/><use href="#d" x="39.2"/><use href="#d" x="58.8"/><use href="#d" x="78.4"/><use href="#d" x="98"/><text class="t" y="9.25" x="9.8 29.4 49 68.6 88.2 107.8">123569</text></g>
<g class="w" transform="translate(780,461)"><use href="#d"/><use href="#d" x="19.6"/><use href="#d" x="39.2"/><use href="#d" x="58.8"/><use href="#d" x="78.4" class="m"/><use href="#d" x="98" class="m"/><text class="t" y="9.25" x="9.8 29.4 49 68.6 88.2 107.8">123569</text></g>
<g class="w" transform="translate(781,489)"><use href="#d"/><use href="#d" x="19.6"/><use href="#d" x="39.2"/><use href="#d" x="58.8" class="m"/><use href="#d" x="78.4" class="m"/><use href="#d" x="98"/><text class="t" y="9.25" x="9.8 29.4 49 68.6 88.2 107.8">123569</text></g>
<g class="w" transform="translate(781,518)"><use href="#d"/><use href="#d" x="19.6"/><use href="#d" x="39.2" class="m"/><use href="#d" x="58.8" class="m"/><use href="#d" x="78.4"/><use href="#d" x="98"/><text class="t" y="9.25" x="9.8 29.4 49 68.6 88.2 107.8">123569</text></g>
<g class="w" transform="translate(783,548)"><use href="#d"/><use href="#d" x="19.6" class="m"/><use href="#d" x="39.2" class="m"/><use href="#d" x="58.8"/><use href="#d" x="78.4"/><use href="#d" x="98"/><text class="t" y="9.25" x="9.8 29.4 49 68.6 88.2 107.8">123569</text></g>
<g class="w" transform="translate(784,578)"><use href="#d" class="m"/><use href="#d" x="19.6" class="m"/><use href="#d" x="39.2"/><use href="#d" x="58.8"/><use href="#d" x="78.4"/><use href="#d" x="98"/><text class="t" y="9.25" x="9.8 29.4 49 68.6 88.2 107.8">123569</text></g>
</g>

<!-- Section K: quick sort -->
<g id="quick">
<rect class="box" x="489" y="622" width="440" height="175" rx="3"/>
<rect class="pk" x="555" y="631" width="9" height="160"/>
<rect class="pk" x="745" y="634" width="10" height="160"/>
<text class="k" x="536" y="643.5" text-anchor="middle">array</text>
<g class="w" transform="translate(556,635)"><use href="#c"/><use href="#c" x="19.6"/><use href="#c" x="39.2"/><use href="#c" x="58.8"/><use href="#c" x="78.4"/><use href="#c" x="98"/><text class="t" y="9.5" x="9.8 29.4 49 68.6 88.2 107.8">256193</text></g>
<text class="z" x="680" y="644">原始数据</text>
<text class="z" x="556" y="672">基准值=data[low]=2</text>
<text class="k" x="536" y="682" text-anchor="middle" style="font-size:9px">1.1</text>
<g class="w" transform="translate(556,676)"><use href="#c"/><use href="#c" x="19.6"/><use href="#c" x="39.2"/><use href="#c" x="58.8"/><use href="#c" x="78.4"/><use href="#c" x="98"/><text class="t" y="9.5" x="29.4 49 68.6 88.2 107.8">56193</text></g>
<text class="q" x="683" y="680">low=0</text><text class="q" x="683" y="689">high=5</text>
<use href="#ua" x="565" y="696"/><text class="gl" x="565" y="709">low</text>
<use href="#ua" x="666" y="696"/><text class="rl" x="666" y="709">high</text>
<text class="z" x="556" y="722">基准值=data[low]=2</text>
<text class="k" x="536" y="732" text-anchor="middle" style="font-size:9px">1.2</text>
<g class="w" transform="translate(556,725)"><use href="#c"/><use href="#c" x="19.6"/><use href="#c" x="39.2"/><use href="#c" x="58.8"/><use href="#c" x="78.4"/><use href="#c" x="98"/><text class="t" y="9.5" x="29.4 49 68.6 88.2 107.8">56193</text></g>
<text class="q" x="683" y="730">low=0</text><text class="q" x="683" y="738">high=4</text>
<use href="#ua" x="565" y="746"/><text class="gl" x="565" y="759">low</text>
<use href="#ua" x="645" y="746"/><text class="rl" x="645" y="759">high</text>
<text class="z" x="556" y="772">基准值=data[low]=2</text>
<text class="k" x="536" y="782" text-anchor="middle" style="font-size:9px">1.3</text>
<g class="w" transform="translate(556,775)"><use href="#c"/><use href="#c" x="19.6"/><use href="#c" x="39.2"/><use href="#c" x="58.8"/><use href="#c" x="78.4"/><use href="#c" x="98"/><text class="t" y="9.5" x="9.8 29.4 49 88.2 107.8">15693</text></g>
<text class="q" x="683" y="780">low=0</text>

<text class="l" x="829.5" y="640" text-anchor="middle" style="font-size:7px">第一趟排序将待排序列表划分为左右两部分，左部分只有一个</text>
<text class="l" x="829.5" y="649" text-anchor="middle" style="font-size:7px">元素1，不需要再排；右部分有元素6,5,9,3；继续划分排序</text>
<text class="z" x="746" y="672">基准值=data[low]=6</text>
<text class="k" x="734" y="687" text-anchor="middle" style="font-size:9px">2.1</text>
<g class="w" transform="translate(746,676)"><use href="#c"/><use href="#c" x="19.6"/><use href="#c" x="39.2"/><use href="#c" x="58.8"/><use href="#c" x="78.4"/><use href="#c" x="98"/><text class="t" y="9.5" x="9.8 29.4 68.6 88.2 107.8">12593</text></g>
<text class="q" x="872" y="680">low=2</text><text class="q" x="872" y="689">high=5</text>
<use href="#ua" x="794" y="696"/><text class="gl" x="794" y="709">low</text>
<use href="#ua" x="855" y="696"/><text class="rl" x="855" y="709">high</text>
<text class="z" x="746" y="722">基准值=data[low]=6</text>
<text class="k" x="734" y="734" text-anchor="middle" style="font-size:9px">2.2</text>
<g class="w" transform="translate(746,725)"><use href="#c"/><use href="#c" x="19.6"/><use href="#c" x="39.2"/><use href="#c" x="58.8"/><use href="#c" x="78.4"/><use href="#c" x="98"/><text class="t" y="9.5" x="9.8 29.4 49 68.6 88.2">12359</text></g>
<text class="q" x="872" y="730">low=2</text><text class="q" x="872" y="739">high=5</text>
<use href="#ua" x="794" y="746"/><text class="gl" x="794" y="759">low</text>
<use href="#ua" x="855" y="746"/><text class="rl" x="855" y="759">high</text>
<text class="z" x="746" y="772">基准值=data[low]=6</text>
<text class="k" x="734" y="782" text-anchor="middle" style="font-size:9px">2.3</text>
<g class="w" transform="translate(746,775)"><use href="#c"/><use href="#c" x="19.6"/><use href="#c" x="39.2"/><use href="#c" x="58.8"/><use href="#c" x="78.4"/><use href="#c" x="98"/><text class="t" y="9.5" x="9.8 29.4 49 68.6 88.2">12359</text></g>
<text class="q" x="872" y="780">low=3</text>
</g>

<!-- connectors -->
<g id="connectors">
<path class="cn" marker-end="url(#ah)" d="M188 189C212 189 203 75 222 75"/>
<path class="cn" marker-end="url(#ah)" d="M184 281C208 281 210 241 228 241"/>
<path class="cn" marker-end="url(#ah)" d="M200 659C234 659 218 530 250 530"/>
<path class="cn" marker-end="url(#ah)" d="M197 699C230 699 220 631 250 631"/>
<path class="cn" marker-end="url(#ah)" d="M197 749C225 749 228 745 250 745"/>
<path class="cn" marker-end="url(#ah)" d="M665 379C692 360 678 266 697 254"/>
<path class="cn" marker-end="url(#ah)" d="M715 790C700 730 702 665 734 646"/>
</g>

<text x="834" y="757" text-anchor="middle" dominant-baseline="central" style="font-family:'Noto Sans CJK SC',sans-serif;font-size:17px;fill:#999;opacity:.65">@稀土掘金技术社区</text>
</svg>
